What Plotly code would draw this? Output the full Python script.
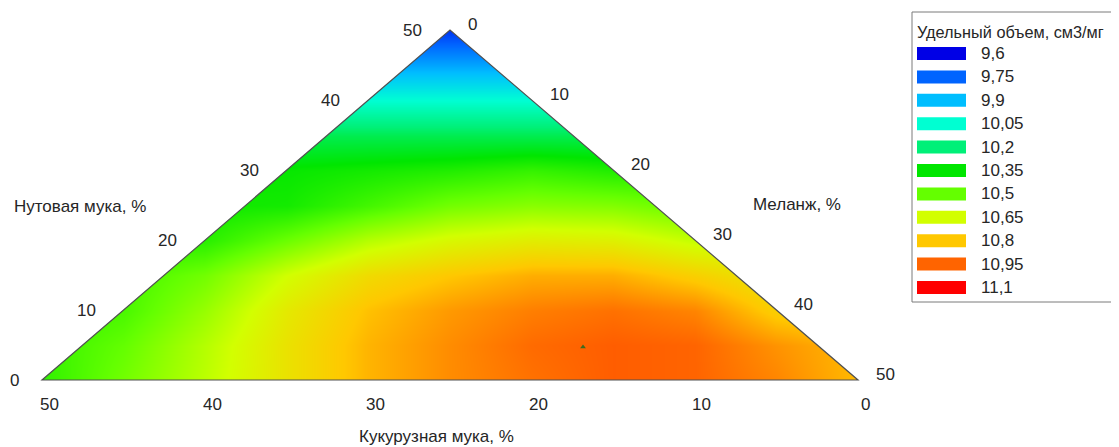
import plotly.graph_objects as go

# ---------------- data ----------------
# Ternary chart: Кукурузная + Нутовая + Меланж = 50 %
# Cartesian layout used for the smooth field: x = Меланж + Нутовая/2, y = Нутовая
GRID_X = [0, 5, 10, 15, 20, 25, 30, 35, 40, 45, 50]
GRID_Y = [0, 5, 10, 15, 20, 25, 30, 35, 40, 45, 50]
# Specific volume (см3/мг), rows = GRID_Y, cols = GRID_X
VOLUME = [
    [10.42, 10.52, 10.62, 10.73, 10.83, 10.89, 10.93, 10.96, 10.95, 10.90, 10.82],
    [10.43, 10.50, 10.61, 10.73, 10.83, 10.89, 10.94, 10.96, 10.95, 10.88, 10.82],
    [10.42, 10.46, 10.57, 10.71, 10.81, 10.87, 10.91, 10.93, 10.90, 10.78, 10.74],
    [10.44, 10.45, 10.52, 10.65, 10.75, 10.80, 10.84, 10.84, 10.78, 10.71, 10.69],
    [10.41, 10.41, 10.41, 10.51, 10.61, 10.67, 10.70, 10.69, 10.63, 10.63, 10.63],
    [10.37, 10.37, 10.37, 10.38, 10.45, 10.52, 10.55, 10.54, 10.50, 10.50, 10.50],
    [10.36, 10.36, 10.36, 10.36, 10.38, 10.40, 10.43, 10.40, 10.40, 10.40, 10.40],
    [10.25, 10.25, 10.25, 10.25, 10.25, 10.25, 10.25, 10.25, 10.25, 10.25, 10.25],
    [10.05, 10.05, 10.05, 10.05, 10.05, 10.05, 10.05, 10.05, 10.05, 10.05, 10.05],
    [9.86, 9.86, 9.86, 9.86, 9.86, 9.86, 9.86, 9.86, 9.86, 9.86, 9.86],
    [9.68, 9.68, 9.68, 9.68, 9.68, 9.68, 9.68, 9.68, 9.68, 9.68, 9.68],
]

LEVELS = [9.6, 9.75, 9.9, 10.05, 10.2, 10.35, 10.5, 10.65, 10.8, 10.95, 11.1]
LEVEL_LABELS = ["9,6", "9,75", "9,9", "10,05", "10,2", "10,35", "10,5",
                "10,65", "10,8", "10,95", "11,1"]
LEVEL_COLORS = ["rgb(0,0,230)", "rgb(0,100,255)", "rgb(0,190,255)",
                "rgb(0,255,210)", "rgb(0,240,120)", "rgb(0,230,0)",
                "rgb(100,255,0)", "rgb(210,255,0)", "rgb(255,200,0)",
                "rgb(255,100,0)", "rgb(255,0,0)"]

TICKS = [0, 10, 20, 30, 40, 50]
TOTAL = 50

# optimum point (Кукурузная, Нутовая, Меланж)
OPT_CORN = [14.5]
OPT_NUT = [4.7]
OPT_MEL = [30.8]

AXIS_LEFT = "Нутовая мука, %"
AXIS_RIGHT = "Меланж, %"
AXIS_BOTTOM = "Кукурузная мука, %"
LEGEND_TITLE = "Удельный объем, см3/мг"

# ---------------- helpers ----------------
OFF = 8  # the page body adds an 8px margin
W, H = 1119 - OFF, 447 - OFF
PX_X0, PX_PER_X = 42.0 - OFF, 16.32   # base-left vertex, 1 unit = 16.32 px
PX_Y0, PX_PER_Y = 380.0 - OFF, 7.0    # base line, 1 unit = 7 px
X_RANGE = [-PX_X0 / PX_PER_X, (W - PX_X0) / PX_PER_X]
Y_RANGE = [-(H - PX_Y0) / PX_PER_Y, PX_Y0 / PX_PER_Y]


def tern(nut, mel):
    return mel + nut / 2.0, nut


def px(xp):
    return (xp - OFF) / W


def py(yp):
    return 1 - (yp - OFF) / H


FONT = "Liberation Sans, Arial, sans-serif"
TXT = "#262626"
FS = 17

lo, hi = LEVELS[0], LEVELS[-1]
colorscale = [[(v - lo) / (hi - lo), c] for v, c in zip(LEVELS, LEVEL_COLORS)]

fig = go.Figure()
fig.add_trace(go.Heatmap(
    x=GRID_X, y=GRID_Y, z=VOLUME, zmin=lo, zmax=hi,
    colorscale=colorscale, zsmooth="best", showscale=False, hoverinfo="skip"))

ox, oy = [], []
for n, m in zip(OPT_NUT, OPT_MEL):
    a, b = tern(n, m)
    ox.append(a)
    oy.append(b)
fig.add_trace(go.Scatter(x=ox, y=oy, mode="markers", hoverinfo="skip",
                         marker=dict(symbol="triangle-up", size=5, color="#3d6b1e"),
                         showlegend=False))

# vertices
A = tern(0, 0)        # Кукурузная = 50
B = tern(0, TOTAL)    # Меланж = 50
C = tern(TOTAL, 0)    # Нутовая = 50

shapes = []
xl, xr = X_RANGE[0] - 1, X_RANGE[1] + 1
yb, yt = Y_RANGE[0] - 1, Y_RANGE[1] + 1
# white masks outside the triangle
shapes.append(dict(type="path", xref="x", yref="y", layer="above",
                   path=f"M {xl},{yb} L {xl},{yt} L {C[0]+0.5},{yt} L {C[0]+0.5},{C[1]+1} "
                        f"L {C[0]},{C[1]} L {A[0]},{A[1]} L {A[0]},{yb} Z",
                   fillcolor="white", line=dict(width=0)))
shapes.append(dict(type="path", xref="x", yref="y", layer="above",
                   path=f"M {xr},{yb} L {xr},{yt} L {C[0]-0.5},{yt} L {C[0]-0.5},{C[1]+1} "
                        f"L {C[0]},{C[1]} L {B[0]},{B[1]} L {B[0]},{yb} Z",
                   fillcolor="white", line=dict(width=0)))
shapes.append(dict(type="rect", xref="x", yref="y", layer="above",
                   x0=xl, x1=xr, y0=yb, y1=0, fillcolor="white", line=dict(width=0)))
# triangle outline
shapes.append(dict(type="path", xref="x", yref="y", layer="above",
                   path=f"M {A[0]},{A[1]} L {B[0]},{B[1]} L {C[0]},{C[1]} Z",
                   fillcolor="rgba(0,0,0,0)", line=dict(color="#505050", width=1.2)))

annotations = []
for k in TICKS:
    # left side: Нутовая
    x, y = tern(k, 0)
    annotations.append(dict(x=x, y=y, xref="x", yref="y", text=str(k), showarrow=False,
                            xanchor="right", yanchor="middle",
                            xshift=-21 if k == 0 else -26, yshift=0,
                            font=dict(family=FONT, size=FS, color=TXT)))
    # right side: Меланж
    x, y = tern(TOTAL - k, k)
    annotations.append(dict(x=x, y=y, xref="x", yref="y", text=str(k), showarrow=False,
                            xanchor="left", yanchor="middle", xshift=16, yshift=6,
                            font=dict(family=FONT, size=FS, color=TXT)))
    # bottom: Кукурузная
    x, y = tern(0, TOTAL - k)
    annotations.append(dict(x=x, y=y, xref="x", yref="y", text=str(k), showarrow=False,
                            xanchor="center", yanchor="middle", xshift=7, yshift=-24,
                            font=dict(family=FONT, size=FS, color=TXT)))

annotations.append(dict(x=px(80), y=py(206), xref="paper", yref="paper", text=AXIS_LEFT,
                        showarrow=False, xanchor="center", yanchor="middle",
                        font=dict(family=FONT, size=FS, color=TXT)))
annotations.append(dict(x=px(797), y=py(204), xref="paper", yref="paper", text=AXIS_RIGHT,
                        showarrow=False, xanchor="center", yanchor="middle",
                        font=dict(family=FONT, size=FS, color=TXT)))
annotations.append(dict(x=px(436), y=py(436), xref="paper", yref="paper", text=AXIS_BOTTOM,
                        showarrow=False, xanchor="center", yanchor="middle",
                        font=dict(family=FONT, size=FS, color=TXT)))

# legend box
shapes.append(dict(type="rect", xref="paper", yref="paper", layer="above",
                   x0=px(912), x1=px(1125), y0=py(302), y1=py(12),
                   fillcolor="white", line=dict(color="#7a7a7a", width=1)))
annotations.append(dict(x=px(915), y=py(32), xref="paper", yref="paper", text=LEGEND_TITLE,
                        showarrow=False, xanchor="left", yanchor="middle",
                        font=dict(family=FONT, size=16.3, color=TXT)))
for i, (lab, col) in enumerate(zip(LEVEL_LABELS, LEVEL_COLORS)):
    cy = 53.5 + i * 23.4
    shapes.append(dict(type="rect", xref="paper", yref="paper", layer="above",
                       x0=px(917), x1=px(966), y0=py(cy + 6.5), y1=py(cy - 6.5),
                       fillcolor=col, line=dict(width=0)))
    annotations.append(dict(x=px(979), y=py(cy), xref="paper", yref="paper", text=lab,
                            showarrow=False, xanchor="left", yanchor="middle",
                            font=dict(family=FONT, size=FS, color=TXT)))

fig.update_layout(
    width=W, height=H,
    margin=dict(l=0, r=0, t=0, b=0, autoexpand=False),
    paper_bgcolor="white", plot_bgcolor="white",
    xaxis=dict(range=X_RANGE, visible=False, fixedrange=True),
    yaxis=dict(range=Y_RANGE, visible=False, fixedrange=True),
    shapes=shapes, annotations=annotations, showlegend=False,
)

fig.write_html("out.html")
